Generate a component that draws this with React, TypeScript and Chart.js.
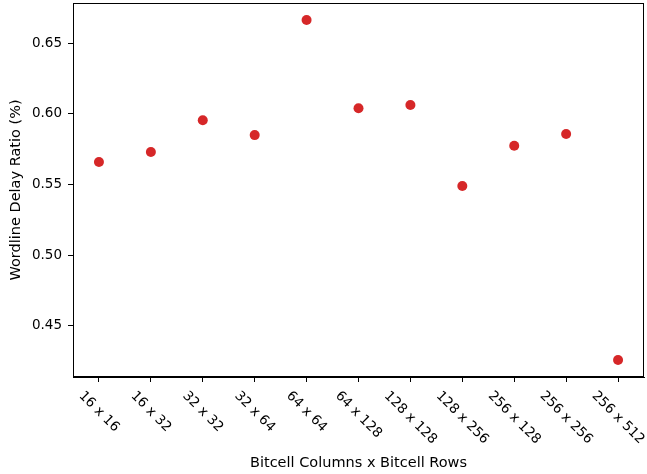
import React, { useEffect, useRef } from "react";
import { Chart, registerables } from "chart.js";

Chart.register(...registerables);

const categories = [
  "16 x 16", "16 x 32", "32 x 32", "32 x 64", "64 x 64", "64 x 128",
  "128 x 128", "128 x 256", "256 x 128", "256 x 256", "256 x 512",
];
const ratios = [0.566, 0.573, 0.5955, 0.585, 0.6665, 0.604, 0.6063, 0.549, 0.5775, 0.5858, 0.4258];
const yTicks = [0.45, 0.5, 0.55, 0.6, 0.65];
const yMin = 0.4138;
const yMax = 0.6785;

const FONT = "DejaVu Sans";

const framePlugin = {
  id: "frameAndLabels",
  afterDraw(chart: any) {
    const { ctx, chartArea } = chart;
    ctx.save();
    ctx.strokeStyle = "#000";
    ctx.lineWidth = 1;
    ctx.strokeRect(
      Math.round(chartArea.left) + 0.5,
      Math.round(chartArea.top) + 0.5,
      Math.round(chartArea.right - chartArea.left) - 1,
      Math.round(chartArea.bottom - chartArea.top) - 1
    );
    const xs = chart.scales.x;
    ctx.font = `13.5px '${FONT}'`;
    ctx.fillStyle = "#000";
    ctx.textAlign = "center";
    ctx.textBaseline = "middle";
    const h = 13.5;
    const top = chartArea.bottom + 12;
    categories.forEach((lab, i) => {
      const x = xs.getPixelForValue(i);
      const w = ctx.measureText(lab).width;
      const box = (w + h) * Math.SQRT1_2;
      ctx.save();
      ctx.translate(x, top + box / 2);
      ctx.rotate(Math.PI / 4);
      ctx.fillText(lab, 0, 0);
      ctx.restore();
    });
    ctx.restore();
  },
};

export default function App() {
  const ref = useRef<HTMLCanvasElement>(null);
  useEffect(() => {
    if (!ref.current) return;
    const chart = new Chart(ref.current, {
      type: "line",
      data: {
        labels: categories,
        datasets: [
          {
            data: ratios,
            showLine: false,
            pointRadius: 5,
            pointHoverRadius: 5,
            pointBackgroundColor: "#d62728",
            pointBorderWidth: 0,
            borderColor: "#d62728",
            clip: false,
          },
        ],
      },
      options: {
        animation: false,
        responsive: false,
        maintainAspectRatio: false,
        layout: { autoPadding: false, padding: { top: 3, right: 3, left: 0, bottom: 0 } },
        plugins: { legend: { display: false }, tooltip: { enabled: false } },
        scales: {
          x: {
            type: "category",
            offset: true,
            grid: { drawOnChartArea: false, tickLength: 5, tickColor: "#000", offset: false },
            border: { color: "#000" },
            ticks: { display: false },
            title: {
              display: true,
              text: "Bitcell Columns x Bitcell Rows",
              color: "#000",
              font: { family: FONT, size: 14.5 },
              padding: { top: 0, bottom: 2 },
            },
            afterFit(s: any) {
              s.height = 97;
              s.paddingLeft = 0;
              s.paddingRight = 0;
            },
          },
          y: {
            min: yMin,
            max: yMax,
            afterBuildTicks(s: any) { s.ticks = yTicks.map((v) => ({ value: v })); },
            grid: { drawOnChartArea: false, tickLength: 5, tickColor: "#000" },
            border: { color: "#000" },
            ticks: {
              padding: 6,
              color: "#000",
              font: { family: FONT, size: 13.5 },
              callback: (v: any) => Number(v).toFixed(2),
            },
            title: {
              display: true,
              text: "Wordline Delay Ratio (%)",
              color: "#000",
              font: { family: FONT, size: 14.5 },
              padding: { top: 8, bottom: 0 },
            },
            afterFit(s: any) {
              s.width = 73;
              s.paddingTop = 0;
              s.paddingBottom = 0;
            },
          },
        },
      },
      plugins: [framePlugin],
    });
    return () => chart.destroy();
  }, []);
  return (
    <div style={{ position: "fixed", left: 0, top: 0, width: 647, height: 474, background: "#fff" }}>
      <canvas ref={ref} width={647} height={474} />
    </div>
  );
}
